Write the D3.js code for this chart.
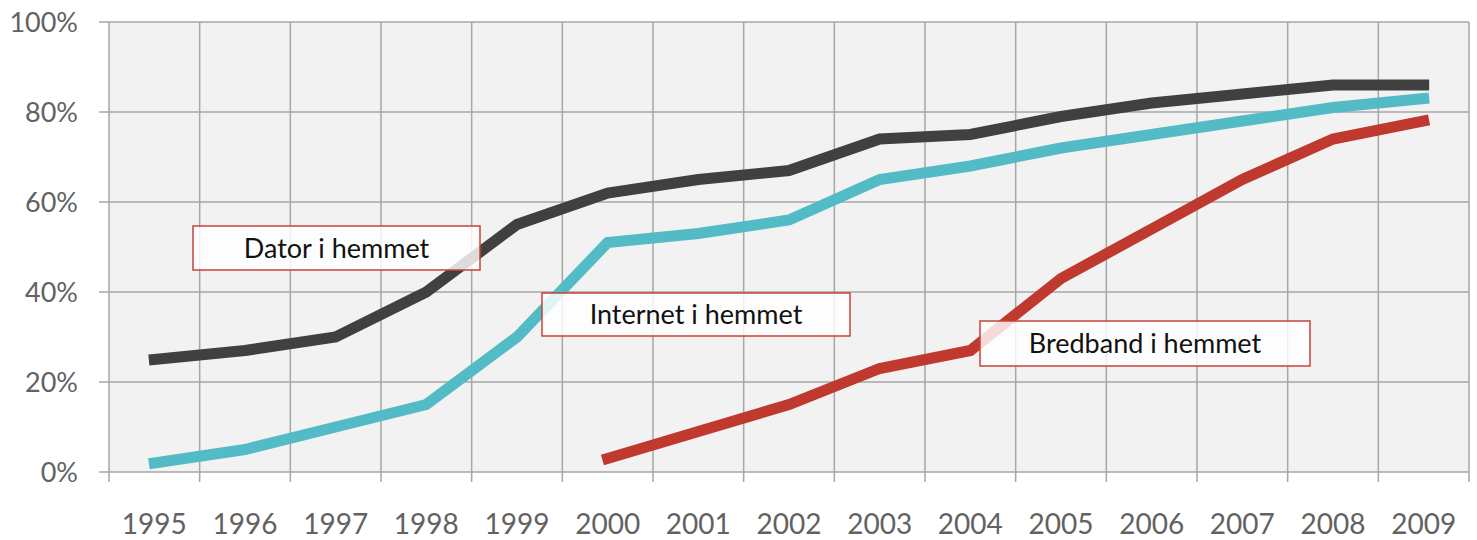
<!DOCTYPE html>
<html><head><meta charset="utf-8">
<script src="https://cdn.jsdelivr.net/npm/d3@7"></script>
<style>body{margin:0;background:#fff;} svg{display:block;}</style>
</head><body>
<svg id="chart" width="1477" height="540"></svg>
<script>
const years = ["1995","1996","1997","1998","1999","2000","2001","2002","2003","2004","2005","2006","2007","2008","2009"];
const dator = [25,27,30,40,55,62,65,67,74,75,79,82,84,86,86];
const internet = [2,5,10,15,30,51,53,56,65,68,72,75,78,81,83];
const bredband = [null,null,null,null,null,3,9,15,23,27,43,54,65,74,78];
const yTicks = [0,20,40,60,80,100];
const seriesNames = ["Dator i hemmet","Internet i hemmet","Bredband i hemmet"];
const colors = ["#404040","#52BBC6","#C0392F"];
const labelPos = [
  {x0:193,x1:480,y0:226,y1:270},
  {x0:542,x1:850,y0:293,y1:336},
  {x0:980,x1:1310,y0:321,y1:366}
];

const svg = d3.select("#chart");
const L = 109, R = 1469, T = 22, B = 472;
const x = d3.scaleBand().domain(years).range([L,R]);
const y = d3.scaleLinear().domain([0,100]).range([B,T]);
const font = "'Lato', 'Open Sans', sans-serif";

svg.append("rect").attr("x",L).attr("y",T).attr("width",R-L).attr("height",B-T).attr("fill","#F2F2F2");

const gc = "#A6A6A6";
const vx = years.map(d=>x(d)).concat([R]);
svg.append("g").selectAll("line").data(vx).join("line")
  .attr("x1",d=>d).attr("x2",d=>d).attr("y1",T).attr("y2",B+10)
  .attr("stroke",gc).attr("stroke-width",1.5);
svg.append("g").selectAll("line").data(yTicks).join("line")
  .attr("x1",L-10).attr("x2",R).attr("y1",d=>y(d)).attr("y2",d=>y(d))
  .attr("stroke",gc).attr("stroke-width",1.5);

svg.append("g").selectAll("text").data(yTicks).join("text")
  .attr("x",78).attr("y",d=>y(d)).attr("dy","0.36em").attr("text-anchor","end")
  .attr("font-family",font).attr("font-size",27).attr("fill","#626262")
  .text(d=>d+"%");
svg.append("g").selectAll("text").data(years).join("text")
  .attr("x",d=>x(d)+x.bandwidth()/2).attr("y",534).attr("text-anchor","middle")
  .attr("font-family",font).attr("font-size",28).attr("fill","#626262")
  .text(d=>d);

const line = d3.line().defined(d=>d.v!=null)
  .x(d=>x(d.year)+x.bandwidth()/2).y(d=>y(d.v));
[dator, internet, bredband].forEach((arr,i)=>{
  const data = years.map((yr,j)=>({year:yr, v:arr[j]}));
  svg.append("path").datum(data).attr("d",line).attr("fill","none")
    .attr("stroke",colors[i]).attr("stroke-width",11)
    .attr("stroke-linecap","square").attr("stroke-linejoin","miter");
});

const lg = svg.append("g").selectAll("g").data(seriesNames).join("g");
lg.append("rect")
  .attr("x",(d,i)=>labelPos[i].x0).attr("y",(d,i)=>labelPos[i].y0)
  .attr("width",(d,i)=>labelPos[i].x1-labelPos[i].x0).attr("height",(d,i)=>labelPos[i].y1-labelPos[i].y0)
  .attr("fill","#fff").attr("fill-opacity",0.82).attr("stroke","#C8413A").attr("stroke-width",1.5);
lg.append("text")
  .attr("x",(d,i)=>(labelPos[i].x0+labelPos[i].x1)/2)
  .attr("y",(d,i)=>(labelPos[i].y0+labelPos[i].y1)/2).attr("dy","0.36em")
  .attr("text-anchor","middle").attr("font-family",font)
  .attr("font-size",27).attr("fill","#111").text(d=>d);
</script>
</body></html>
